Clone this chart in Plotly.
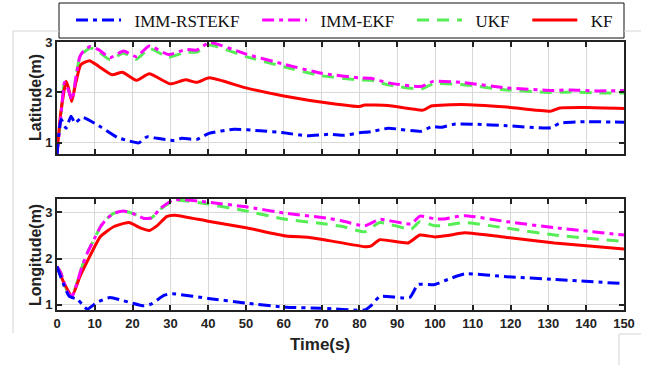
import plotly.graph_objects as go

# ---------------- data ----------------
# Latitude panel
lat_rst_t = [0, 1.1, 2.4, 3.7, 4.8, 6.6, 11.5, 15.9, 18.5, 21.6, 23.8, 26.5, 30.9, 33, 37, 40.2,
             46.8, 53.8, 60, 66.2, 72, 76, 80, 83, 87.6, 96.4, 99, 101.7, 105, 110.5, 119, 130.7,
             133, 140, 150]
lat_rst_v = [0.78, 1.47, 1.29, 1.53, 1.39, 1.51, 1.32, 1.11, 1.05, 1.0, 1.12, 1.09, 1.05, 1.09, 1.07,
             1.19, 1.27, 1.24, 1.2, 1.14, 1.17, 1.15, 1.2, 1.22, 1.29, 1.23, 1.32, 1.31, 1.37, 1.37,
             1.34, 1.3, 1.39, 1.42, 1.41]

lat_ekf_t = [0, 1, 2, 3, 4, 5, 6, 7, 8.8, 11, 14, 17.6, 21, 24.4, 29.5, 34, 37, 40.3, 50, 60, 70,
             80, 83, 87.6, 96.4, 99.5, 107, 119, 130.7, 136, 143, 150]
lat_ekf_v = [0.78, 1.5, 2.2, 2.05, 1.85, 2.3, 2.7, 2.82, 2.91, 2.85, 2.69, 2.82, 2.71, 2.92, 2.75,
             2.85, 2.84, 2.99, 2.76, 2.56, 2.38, 2.29, 2.28, 2.19, 2.12, 2.22, 2.2, 2.09, 2.04, 2.05,
             2.03, 2.04]

lat_ukf_t = [0, 1, 2, 3, 4, 5, 6, 7, 8.8, 11, 14, 17.6, 21, 24.4, 29.5, 34, 37, 40.3, 50, 60, 70,
             80, 83, 87.6, 96.4, 99.5, 107, 119, 130.7, 136, 143, 150]
lat_ukf_v = [0.78, 1.5, 2.2, 2.05, 1.85, 2.3, 2.68, 2.79, 2.88, 2.81, 2.65, 2.78, 2.66, 2.87, 2.7,
             2.8, 2.8, 2.94, 2.71, 2.51, 2.33, 2.25, 2.24, 2.15, 2.07, 2.17, 2.16, 2.05, 2.0, 2.01,
             1.99, 1.99]

lat_kf_t = [0, 1, 2.4, 3, 3.9, 5, 6.3, 8.6, 11, 14.6, 17.3, 21, 24.4, 30, 34, 37, 40.3, 50, 60,
            72.6, 80, 81.4, 87.6, 96.8, 99, 107, 119, 130.7, 133, 140, 150]
lat_kf_v = [0.78, 1.6, 2.22, 2.1, 1.82, 2.2, 2.55, 2.63, 2.52, 2.35, 2.4, 2.24, 2.37, 2.17, 2.25,
            2.2, 2.29, 2.09, 1.93, 1.78, 1.72, 1.75, 1.74, 1.65, 1.73, 1.76, 1.71, 1.63, 1.69, 1.7,
            1.68]

# Longitude panel
lon_rst_t = [0, 3.2, 5.4, 8, 10.5, 14, 17.6, 23, 25, 28.4, 30.5, 40, 50, 60.6, 70, 81.4, 83, 85.4,
             93.3, 95.5, 100, 103.4, 107.8, 119, 131.6, 150]
lon_rst_v = [1.83, 1.19, 1.12, 0.91, 1.05, 1.16, 1.09, 0.98, 1.02, 1.21, 1.24, 1.14, 1.04, 0.95,
             0.93, 0.89, 0.98, 1.18, 1.16, 1.44, 1.44, 1.55, 1.67, 1.61, 1.55, 1.46]

lon_ekf_t = [0, 1, 2, 3, 4, 5, 6.5, 8, 10, 11.5, 13, 15, 17.6, 20, 23, 25, 27.4, 30.5, 32.7, 40, 50,
             60.6, 72, 75.3, 81.4, 85.4, 93.7, 96, 100, 102.5, 107.8, 119, 131.6, 150]
lon_ekf_v = [1.83, 1.7, 1.45, 1.25, 1.19, 1.4, 1.8, 2.12, 2.45, 2.69, 2.85, 2.98, 3.03, 2.98, 2.87,
             2.88, 3.09, 3.26, 3.28, 3.22, 3.12, 2.98, 2.87, 2.82, 2.71, 2.85, 2.75, 2.92, 2.86,
             2.86, 2.93, 2.8, 2.67, 2.51]

lon_ukf_t = [0, 1, 2, 3, 4, 5, 6.5, 8, 10, 11.5, 13, 15, 17.6, 20, 23, 25, 27.4, 30.5, 32.7, 40, 50,
             60.6, 70, 75.3, 81.4, 85.4, 93.7, 96, 100, 102.5, 107.8, 119, 131.6, 150]
lon_ukf_v = [1.83, 1.7, 1.45, 1.25, 1.19, 1.4, 1.8, 2.12, 2.45, 2.69, 2.85, 2.98, 3.03, 2.98, 2.87,
             2.88, 3.07, 3.24, 3.26, 3.18, 3.03, 2.85, 2.76, 2.7, 2.58, 2.78, 2.64, 2.8, 2.71,
             2.72, 2.78, 2.66, 2.51, 2.37]

lon_kf_t = [0, 2, 4, 6, 8, 11.5, 15, 19, 22.2, 24.4, 26.6, 29, 31, 40, 50, 60.6, 66.7, 72, 81.4, 83,
            85.4, 92.9, 96, 100, 103.4, 107.8, 119, 131.6, 150]
lon_kf_v = [1.83, 1.45, 1.19, 1.6, 1.94, 2.48, 2.69, 2.78, 2.66, 2.61, 2.72, 2.91, 2.94, 2.81, 2.67,
            2.49, 2.46, 2.39, 2.26, 2.27, 2.41, 2.34, 2.51, 2.47, 2.5, 2.56, 2.46, 2.34, 2.21]

names = ["IMM-RSTEKF", "IMM-EKF", "UKF", "KF"]
colors = ["#0000ff", "#ff00ff", "#55ee55", "#ff0000"]
dashes = ["12px,5px,4px,5px", "12px,5px,4px,5px", "12px,8px", "solid"]
ranks = [1, 2, 3, 4]

x_ticks = list(range(0, 151, 10))
y_ticks = [1, 2, 3]

# ---------------- figure ----------------
W, H = 651, 365
NB = "\u00a0"
fig = go.Figure()

lat = [(lat_rst_t, lat_rst_v), (lat_ekf_t, lat_ekf_v), (lat_ukf_t, lat_ukf_v), (lat_kf_t, lat_kf_v)]
lon = [(lon_rst_t, lon_rst_v), (lon_ekf_t, lon_ekf_v), (lon_ukf_t, lon_ukf_v), (lon_kf_t, lon_kf_v)]

draw_order = [2, 3, 1, 0]  # UKF, KF, IMM-EKF, IMM-RSTEKF (magenta above green)
for panel, (xa, ya) in [(lat, ("x", "y")), (lon, ("x2", "y2"))]:
    for i in draw_order:
        t, v = panel[i]
        fig.add_trace(go.Scatter(
            x=t, y=v, mode="lines", name=NB * 2 + names[i] + NB * 3,
            line=dict(color=colors[i], width=3, dash=dashes[i], shape="spline", smoothing=0.5),
            xaxis=xa, yaxis=ya, legendrank=ranks[i], showlegend=(xa == "x"),
        ))

xdom = [57 / W, 624 / W]
axis_common = dict(
    showline=True, linecolor="#222222", linewidth=2, mirror="ticks",
    ticks="inside", ticklen=5, tickwidth=1.5, tickcolor="#222222",
    showgrid=True, gridcolor="#d9d9d9", gridwidth=1, zeroline=False,
    tickfont=dict(family="Liberation Sans", size=13, color="#222222", weight="bold"),
)
fig.update_layout(
    width=W, height=H, autosize=False,
    margin=dict(l=0, r=0, t=0, b=0, autoexpand=False),
    paper_bgcolor="white", plot_bgcolor="white",
    xaxis=dict(domain=xdom, range=[0, 150], tickvals=x_ticks, showticklabels=False,
               anchor="y", **axis_common),
    yaxis=dict(domain=[1 - 154 / H, 1 - 42 / H], range=[0.78, 3], tickvals=y_ticks,
               anchor="x", **axis_common),
    xaxis2=dict(domain=xdom, range=[0, 150], tickvals=x_ticks, anchor="y2", **axis_common),
    yaxis2=dict(domain=[1 - 310 / H, 1 - 199 / H], range=[0.89, 3.29], tickvals=y_ticks,
                anchor="x2", **axis_common),
    legend=dict(orientation="h", x=71 / W, y=1 - 20.5 / H, xanchor="left", yanchor="middle",
                borderwidth=0, bgcolor="rgba(0,0,0,0)", itemwidth=45,
                font=dict(family="'Liberation Serif', 'Times New Roman', serif", size=17,
                          color="#111111")),
    showlegend=True,
)

# legend frame
fig.add_shape(type="rect", xref="paper", yref="paper", x0=59 / W, y0=1 - 3 / H,
              x1=624 / W, y1=1 - 38 / H, line=dict(color="#111111", width=1),
              fillcolor="white", layer="below")

title_font = dict(family="Liberation Sans", size=16, color="#222222", weight="bold")
fig.add_annotation(text="Latitude(m)", x=35 / W, y=1 - 98 / H, xref="paper", yref="paper",
                   xanchor="center", yanchor="middle",
                   textangle=-90, showarrow=False, font=title_font)
fig.add_annotation(text="Longitude(m)", x=35 / W, y=1 - 255 / H, xref="paper", yref="paper",
                   xanchor="center", yanchor="middle",
                   textangle=-90, showarrow=False, font=title_font)
fig.add_annotation(text="Time(s)", x=320 / W, y=1 - 344 / H, xref="paper", yref="paper",
                   xanchor="center", yanchor="middle",
                   showarrow=False, font=dict(family="Liberation Sans", size=17, color="#222222",
                                              weight="bold"))

# faint frame lines of the scanned page
for (x0, y0, x1, y1) in [(13, 31, 59, 31), (624, 31, 641, 31), (13, 31, 13, 333),
                         (619, 334, 641, 334), (619, 334, 619, 365)]:
    fig.add_shape(type="line", xref="paper", yref="paper", x0=x0 / W, y0=1 - y0 / H,
                  x1=x1 / W, y1=1 - y1 / H, line=dict(color="#d4d4d4", width=1), layer="below")

fig.write_html("out.html", config={"displayModeBar": False},
               post_script="document.body.style.margin='0';document.body.style.overflow='hidden';")
